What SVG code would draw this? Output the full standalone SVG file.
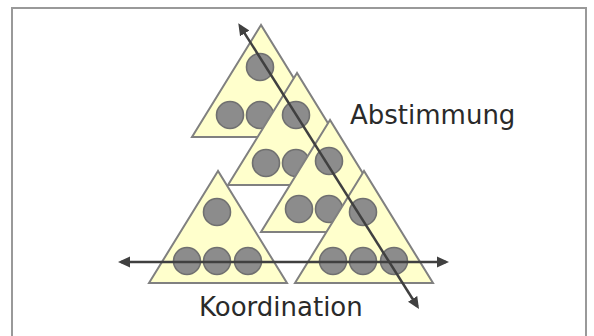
<svg xmlns="http://www.w3.org/2000/svg" xmlns:xlink="http://www.w3.org/1999/xlink" width="594" height="336" viewBox="0 0 594 336">
<style>
.tri{fill:#FFFFCC;stroke:#808080;stroke-width:2;stroke-linejoin:miter}
.dot{fill:#8C8C8C;stroke:#707070;stroke-width:1.6}
.arr{stroke:#404040;stroke-width:2.5;fill:none;marker-start:url(#ah);marker-end:url(#ah)}
.lbl{font-family:"DejaVu Sans",Verdana,sans-serif;font-size:26px;fill:#2a2a2a}
</style>
<defs>
<marker id="ah" viewBox="0 0 12 12" markerWidth="12" markerHeight="12" refX="9" refY="6" orient="auto-start-reverse" markerUnits="userSpaceOnUse">
<path d="M0,0.5 L12,6 L0,11.5 z" fill="#404040"/>
</marker>
</defs>
<rect x="12" y="8" width="574" height="340" fill="#FFFFFF" stroke="#999999" stroke-width="2"/>
<g id="tri1" transform="translate(261,25)">
<polygon class="tri" points="0,0 -69,112 69,112"/>
<circle class="dot" cx="-1" cy="42" r="13.5"/>
<circle class="dot" cx="-31" cy="90" r="13.5"/>
<circle class="dot" cx="-1" cy="90" r="13.5"/>
<circle class="dot" cx="30" cy="90" r="13.5"/>
</g>
<g id="tri2" transform="translate(297,73)">
<polygon class="tri" points="0,0 -69,112 69,112"/>
<circle class="dot" cx="-1" cy="42" r="13.5"/>
<circle class="dot" cx="-31" cy="90" r="13.5"/>
<circle class="dot" cx="-1" cy="90" r="13.5"/>
<circle class="dot" cx="30" cy="90" r="13.5"/>
</g>
<g id="tri3" transform="translate(330,120)">
<polygon class="tri" points="0,0 -69,112 69,112"/>
<circle class="dot" cx="-1" cy="41" r="13.5"/>
<circle class="dot" cx="-31" cy="89" r="13.5"/>
<circle class="dot" cx="-1" cy="89" r="13.5"/>
<circle class="dot" cx="30" cy="89" r="13.5"/>
</g>
<g id="tri5" transform="translate(218,171)">
<polygon class="tri" points="0,0 -69,112 69,112"/>
<circle class="dot" cx="-1" cy="41" r="13.5"/>
<circle class="dot" cx="-31" cy="90" r="13.5"/>
<circle class="dot" cx="-1" cy="90" r="13.5"/>
<circle class="dot" cx="30" cy="90" r="13.5"/>
</g>
<g id="tri4" transform="translate(364,171)">
<polygon class="tri" points="0,0 -69,112 69,112"/>
<circle class="dot" cx="-1" cy="41" r="13.5"/>
<circle class="dot" cx="-31" cy="90" r="13.5"/>
<circle class="dot" cx="-1" cy="90" r="13.5"/>
<circle class="dot" cx="30" cy="90" r="13.5"/>
</g>
<g id="connectors">
<line class="arr" x1="121" y1="262" x2="446" y2="262"/>
<line class="arr" x1="239.9" y1="25.8" x2="417.4" y2="306.5"/>
</g>
<g id="labels">
<text class="lbl" x="350" y="124">Abstimmung</text>
<text class="lbl" x="199" y="316">Koordination</text>
</g>
</svg>
